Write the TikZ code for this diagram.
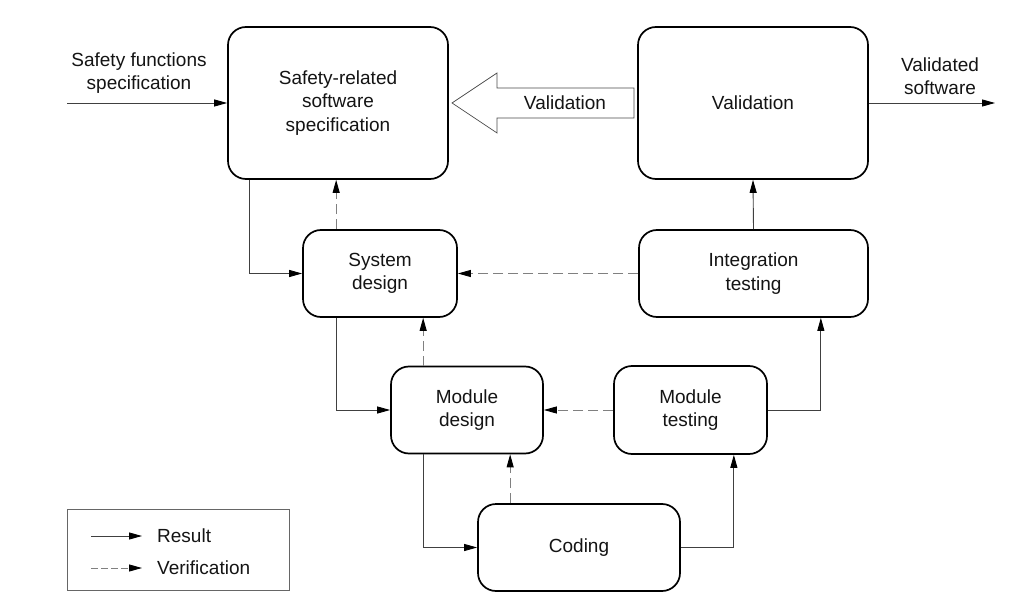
\documentclass[tikz,border=0pt]{standalone}
\usepackage{fontspec}
\setmainfont{Liberation Sans}
\usetikzlibrary{arrows.meta,calc}
\begin{document}
\begin{tikzpicture}[x=1pt,y=-1pt,
  every node/.style={font=\fontsize{19}{23.5}\selectfont, text=black!92, align=center},
  blk/.style={draw=black, line width=1.7pt, rounded corners=18pt, inner sep=0pt},
  res/.style={draw=black!75, line width=0.9pt, -{Triangle[length=13pt,width=7pt,color=black]}},
  ver/.style={draw=black!50, line width=0.9pt, dash pattern=on 10pt off 5pt, -{Triangle[length=13pt,width=7pt,color=black]}}]
\useasboundingbox (0,0) rectangle (1024,609);
\fill[white] (0,0) rectangle (1024,609);
% blocks
\node[blk, minimum width=220pt, minimum height=152pt] (SRS) at (338,103) {Safety-related\\software\\specification};
\node[blk, minimum width=230pt, minimum height=152pt] (VAL) at (753,103) {Validation};
\node[blk, minimum width=154pt, minimum height=87pt] (SD) at (380,273.5) {System\\design};
\node[blk, minimum width=229pt, minimum height=87pt] (IT) at (753.5,273.5) {Integration\\testing};
\node[blk, minimum width=152pt, minimum height=87pt] (MD) at (467,410) {Module\\design};
\node[blk, minimum width=153pt, minimum height=88pt] (MT) at (690.5,410) {Module\\testing};
\node[blk, minimum width=202pt, minimum height=87pt] (COD) at (579,547.5) {Coding};
% external labels
\node (sfs) at (139,73) {Safety functions\\specification};
\node (vs) at (940,76) {Validated\\software};
\coordinate (in) at (67,103);
\coordinate (out) at (995,103);
\draw[res] (in) -- (SRS.west);
\draw[res] (VAL.east) -- (out);
% hollow validation arrow
\draw[draw=black!70, line width=0.7pt, fill=white] (452,103) -- (497,73) -- (497,88) -- (634,88) -- (634,118) -- (497,118) -- (497,133) -- cycle;
\node (valarrow) at (565,103) {Validation};
% connectors
\coordinate (a1) at ([xshift=22pt]SRS.south west);
\draw[res] (a1) |- (SD.west);
\coordinate (v1) at ([xshift=34pt]SD.north west);
\draw[ver] (v1) -- (v1 |- SRS.south);
\draw[ver] (IT.west) -- (SD.east);
\draw[res] (IT.north) -- (VAL.south);
\coordinate (a2) at ([xshift=34pt]SD.south west);
\draw[res] (a2) |- (MD.west);
\coordinate (v2) at ([xshift=33pt]MD.north west);
\draw[ver] (v2) -- (v2 |- SD.south);
\draw[ver] (MT.west) -- (MD.east);
\coordinate (a3) at ([xshift=-48pt]IT.south east);
\draw[res] (MT.east) -| (a3);
\coordinate (a4) at ([xshift=33pt]MD.south west);
\draw[res] (a4) |- (COD.west);
\coordinate (v3) at ([xshift=33pt]COD.north west);
\draw[ver] (v3) -- (v3 |- MD.south);
\coordinate (a5) at ([xshift=-34pt]MT.south east);
\draw[res] (COD.east) -| (a5);
% legend
\node[draw=black!60, line width=0.8pt, minimum width=222pt, minimum height=81pt, inner sep=0pt] (leg) at (178,549.5) {};
\coordinate (l1a) at (91,536);
\coordinate (l1b) at (142,536);
\coordinate (l2a) at (91,568);
\coordinate (l2b) at (142,568);
\draw[res] (l1a) -- (l1b);
\draw[ver, dash pattern=on 7pt off 3pt] (l2a) -- (l2b);
\node[anchor=west, inner sep=0pt] (lr) at (157,536) {Result};
\node[anchor=west, inner sep=0pt] (lv) at (157,568) {Verification};
\end{tikzpicture}
\end{document}
